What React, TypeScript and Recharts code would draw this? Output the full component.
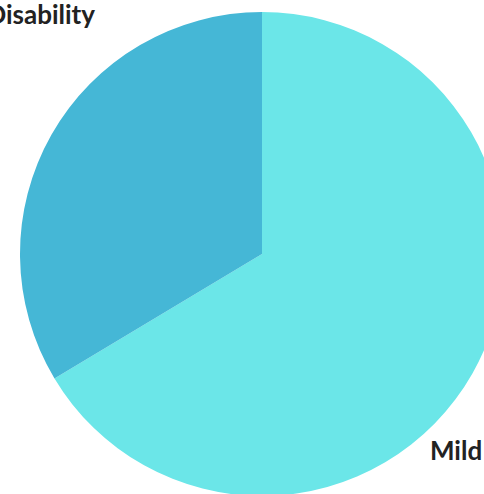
import React from 'react';
import { PieChart, Pie, Cell } from 'recharts';

const categories = ['Mild', 'Disability'];
const values = [66.4, 33.6];
const colors = ['#6BE6E8', '#45B7D6'];

const data = categories.map((name, i) => ({ name, value: values[i] }));

// label anchors as fractions of the outer radius, relative to the centre
const labelOffsets = [
  { dx: 0.694, dy: 0.85, anchor: 'start' },
  { dx: -0.69, dy: -0.95, anchor: 'end' },
];

const renderLabel = (props: any) => {
  const { cx, cy, outerRadius, index, name } = props;
  const o = labelOffsets[index];
  return (
    <text
      x={cx + o.dx * outerRadius}
      y={cy + o.dy * outerRadius}
      textAnchor={o.anchor}
      fill="#222"
      fontFamily="Lato, sans-serif"
      fontWeight={700}
      fontSize={26}
    >
      {name}
    </text>
  );
};

const App: React.FC = () => {
  return (
    <div
      style={{
        position: 'absolute',
        left: 0,
        top: 0,
        width: 484,
        height: 494,
        overflow: 'hidden',
        background: '#fff',
      }}
    >
      <div style={{ position: 'absolute', left: -108, top: 0 }}>
        <PieChart width={700} height={494} margin={{ top: 0, right: 0, bottom: 0, left: 0 }}>
          <Pie
            data={data}
            dataKey="value"
            nameKey="name"
            cx={370}
            cy={254}
            outerRadius={242}
            startAngle={90}
            endAngle={-270}
            stroke="none"
            label={renderLabel}
            labelLine={false}
            isAnimationActive={false}
          >
            {data.map((d, i) => (
              <Cell key={d.name} fill={colors[i]} />
            ))}
          </Pie>
        </PieChart>
      </div>
    </div>
  );
};

export default App;
